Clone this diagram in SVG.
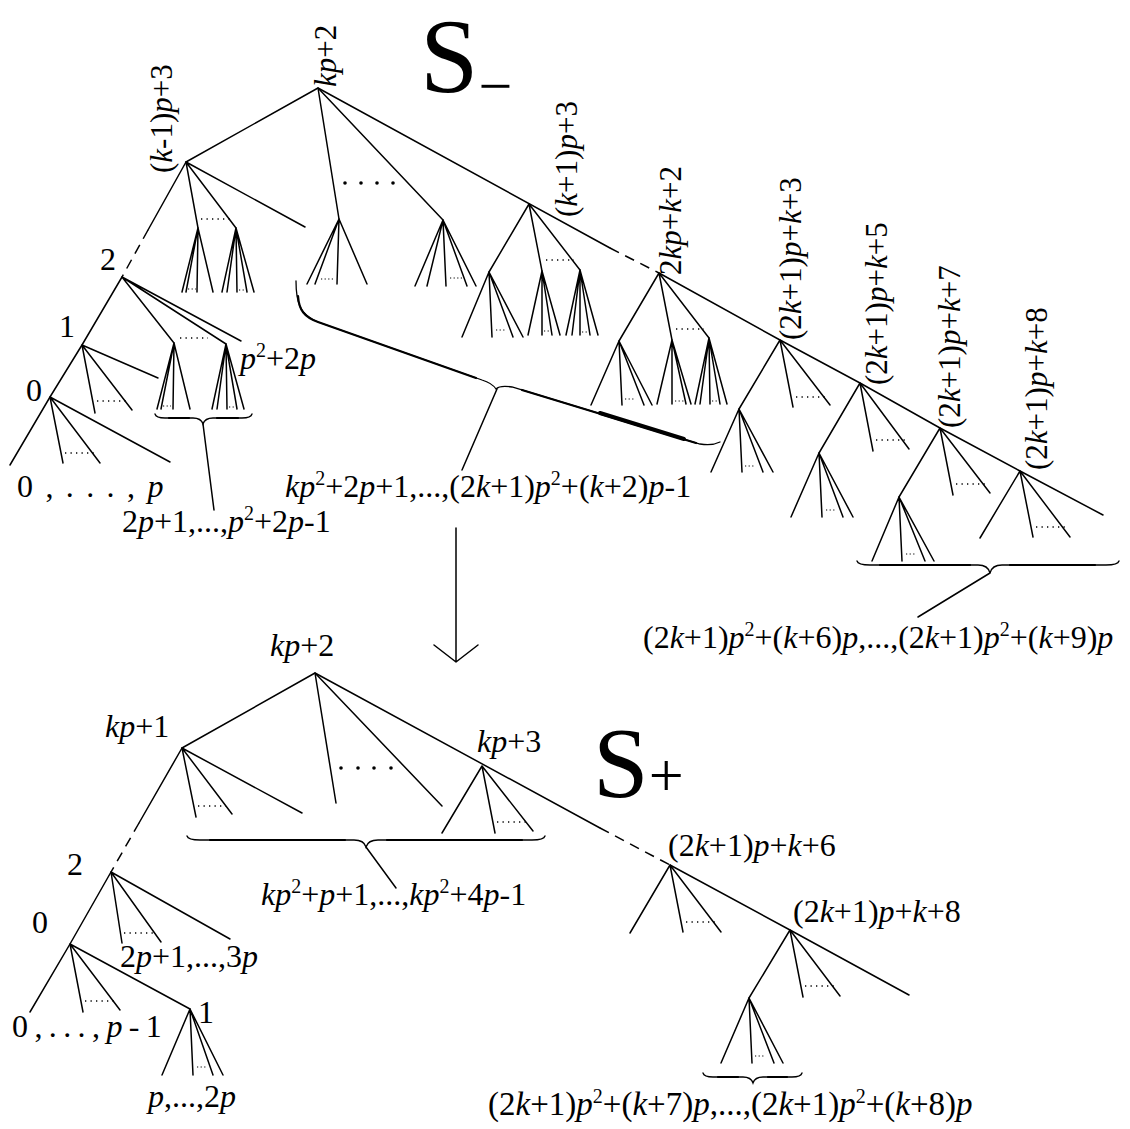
<svg xmlns="http://www.w3.org/2000/svg" width="1130" height="1129" viewBox="0 0 1130 1129">
<style>
#connectors path{fill:none;stroke:#000;stroke-width:1.5;stroke-linecap:round;stroke-linejoin:round}
#connectors path.dash{stroke-dasharray:10 7;stroke-linecap:butt}
#connectors path.dot{stroke-width:1.3;stroke-dasharray:1.3 4.2;stroke-linecap:butt}
#connectors path.ell{stroke-width:1.2;stroke-dasharray:1.2 2.4;stroke-linecap:butt}
#connectors circle{fill:#000}
.brace{fill:none;stroke:#000;stroke-width:1.3;stroke-linecap:round}
.brace-b{fill:none;stroke:#000;stroke-width:2.2;stroke-linecap:round}
text{font-size:32px;fill:#000}
text.rot{font-size:31px}
text.big{font-size:33px}
.i{font-style:italic}
.sup{font-size:20px}
</style>
<rect width="1130" height="1129" fill="#fff"/>

<g id="connectors">
  <!-- upper tree S_ : spines -->
  <path d="M186,162 L318,88 L610,248"/>
  <path class="dash" d="M610,248 L659,273"/>
  <path d="M659,273 L780,340 L860,383 L940,428 L1020,471 L1103,515"/>
  <path d="M186,162 L148,230"/>
  <path class="dash" d="M148,230 L122,277"/>
  <path d="M122,277 L82,345 L50,397 L10,465"/>
  <!-- upper tree fans -->
  <path d="M186,162 L198,228 M186,162 L236,228 M186,162 L305,227"/>
  <path d="M198,228 L182,292 M198,228 L186,292 M198,228 L197,292 M198,228 L213,292"/>
  <path d="M236,228 L222,292 M236,228 L227,292 M236,228 L237,292 M236,228 L247,292 M236,228 L254,292"/>
  <path d="M318,88 L339,219 M318,88 L443,220"/>
  <path d="M339,219 L307,284 M339,219 L315,284 M339,219 L337,284 M339,219 L367,284"/>
  <path d="M443,220 L415,286 M443,220 L427,286 M443,220 L446,286 M443,220 L467,286 M443,220 L476,286"/>
  <path d="M529,204 L489,272 M529,204 L542,271 M529,204 L580,270"/>
  <path d="M489,272 L462,337 M489,272 L492,337 M489,272 L513,337 M489,272 L523,337"/>
  <path d="M542,271 L528,335 M542,271 L542,335 M542,271 L552,335 M542,271 L560,335"/>
  <path d="M580,270 L566,335 M580,270 L572,335 M580,270 L580,335 M580,270 L590,335 M580,270 L598,335"/>
  <path d="M659,273 L619,341 M659,273 L672,340 M659,273 L709,338"/>
  <path d="M619,341 L591,405 M619,341 L622,405 M619,341 L644,405 M619,341 L652,405"/>
  <path d="M672,340 L657,404 M672,340 L672,404 M672,340 L686,404 M672,340 L691,404"/>
  <path d="M709,338 L695,404 M709,338 L700,404 M709,338 L710,404 M709,338 L720,404 M709,338 L727,404"/>
  <path d="M780,340 L739,409 M780,340 L793,407 M780,340 L830,405"/>
  <path d="M739,409 L711,472 M739,409 L742,472 M739,409 L763,472 M739,409 L773,472"/>
  <path d="M860,383 L819,453 M860,383 L873,451 M860,383 L909,449"/>
  <path d="M819,453 L791,517 M819,453 L822,517 M819,453 L843,517 M819,453 L853,517"/>
  <path d="M940,428 L899,497 M940,428 L953,495 M940,428 L990,493"/>
  <path d="M899,497 L872,561 M899,497 L902,561 M899,497 L925,561 M899,497 L934,561"/>
  <path d="M1020,471 L980,538 M1020,471 L1033,537 M1020,471 L1070,537"/>
  <path d="M122,277 L174,343 M122,277 L226,344 M122,277 L241,341"/>
  <path d="M174,343 L157,409 M174,343 L161,409 M174,343 L173,409 M174,343 L190,409"/>
  <path d="M226,344 L212,409 M226,344 L217,409 M226,344 L227,409 M226,344 L237,409 M226,344 L244,409"/>
  <path d="M82,345 L95,413 M82,345 L132,410 M82,345 L158,378"/>
  <path d="M50,397 L63,463 M50,397 L100,463 M50,397 L170,462"/>
  <!-- upper tree dotted gaps -->
  <path class="dot" d="M201,219 L232,219 M546,260 L574,260 M676,329 L704,329 M796,397 L826,397 M876,440 L905,440 M956,484 L985,484 M1036,527 L1066,527 M180,338 L208,338 M97,401 L126,401 M65,453 L95,453"/>
  <path class="ell" d="M188,289 L196,289 M239,290 L247,290 M321,279 L333,279 M450,278 L462,278 M496,330 L505,330 M544,331 L551,331 M582,332 L590,332 M625,399 L634,399 M675,401 L684,401 M712,401 L720,401 M745,466 L754,466 M826,510 L835,510 M906,554 L915,554 M163,406 L171,406 M229,407 L237,407"/>
  <circle cx="345" cy="183" r="1.8"/><circle cx="361" cy="183" r="1.8"/><circle cx="377" cy="183" r="1.8"/><circle cx="393" cy="183" r="1.8"/>
  <!-- brace leaders (upper) -->
  <path d="M203,424 L214,510"/>
  <path d="M497,389 L462,470"/>
  <path d="M990,573 L918,617"/>

  <!-- arrow between the trees -->
  <path d="M456,528 L456,662 M434,645 L456,662 L478,645"/>

  <!-- lower tree S+ : spines -->
  <path d="M182,748 L315,673 L600,828"/>
  <path class="dash" d="M600,828 L670,865"/>
  <path d="M670,865 L790,930 L909,995"/>
  <path d="M182,748 L139,823"/>
  <path class="dash" d="M139,823 L111,872"/>
  <path d="M111,872 L70,944 L30,1012"/>
  <!-- lower tree fans -->
  <path d="M182,748 L196,817 M182,748 L232,814 M182,748 L302,813"/>
  <path d="M315,673 L336,803 M315,673 L442,806"/>
  <path d="M482,766 L442,833 M482,766 L495,833 M482,766 L533,831"/>
  <path d="M670,865 L630,933 M670,865 L683,932 M670,865 L721,932"/>
  <path d="M790,930 L749,998 M790,930 L803,997 M790,930 L840,996"/>
  <path d="M749,998 L721,1063 M749,998 L752,1063 M749,998 L774,1063 M749,998 L783,1063"/>
  <path d="M111,872 L122,943 M111,872 L161,942 M111,872 L230,939"/>
  <path d="M70,944 L83,1012 M70,944 L120,1010 M70,944 L190,1009"/>
  <path d="M190,1009 L162,1075 M190,1009 L193,1075 M190,1009 L213,1075 M190,1009 L223,1075"/>
  <path class="dot" d="M198,806 L226,806 M497,822 L528,822 M686,922 L715,922 M805,986 L834,986 M124,933 L157,933 M85,1001 L114,1001"/>
  <path class="ell" d="M755,1056 L765,1056 M197,1067 L206,1067"/>
  <circle cx="341" cy="768" r="1.8"/><circle cx="358" cy="768" r="1.8"/><circle cx="374" cy="768" r="1.8"/><circle cx="391" cy="768" r="1.8"/>
  <path d="M366,847 L396,888"/>
</g>

<g id="braces">
  <!-- slanted brace under the middle subtrees -->
  <path class="brace" d="M296,281 C296,303 300,315 318,322 L482,380 Q492,383 496,389 Q500,385 512,387 L700,444 Q712,446 720,442"/>
  <path class="brace-b" d="M298,296 C299,310 304,317 318,322 L476,378"/>
  <path class="brace-b" d="M522,390 L696,443"/>
  <path class="brace-b" style="stroke-width:4" d="M600,413 L684,439"/>
  <!-- horizontal braces -->
  <path class="brace" d="M155,414 Q156,418 165,418 L193,418 Q201,418 203,424 Q205,418 213,418 L242,418 Q251,418 252,414"/>
  <path class="brace-b" d="M169,418 L189,418 M217,418 L238,418"/>
  <path class="brace" d="M857,561 Q858,565 870,565 L978,565 Q988,565 990,573 Q992,565 1002,565 L1106,565 Q1118,565 1119,561"/>
  <path class="brace-b" d="M880,565 L970,565 M1010,565 L1095,565"/>
  <path class="brace" d="M187,836 Q188,840 200,840 L354,840 Q364,840 366,847 Q368,840 378,840 L532,840 Q544,840 545,836"/>
  <path class="brace-b" d="M210,840 L345,840 M387,840 L522,840"/>
  <path class="brace" d="M703,1073 Q704,1077 713,1077 L743,1077 Q751,1077 753,1083 Q755,1077 763,1077 L792,1077 Q801,1077 802,1073"/>
  <path class="brace-b" d="M718,1077 L738,1077 M768,1077 L787,1077"/>
</g>

<g id="labels">
<!-- titles -->
<g id="title-minus"><text font-family="Liberation Serif" x="420" y="92" style="font-size:105px">S<tspan style="font-size:60px" dy="14">−</tspan></text></g>
<g id="title-plus"><text font-family="Liberation Serif" x="593" y="796" style="font-size:100px">S<tspan style="font-size:62px">+</tspan></text></g>

<!-- upper tree node labels -->
<g id="node-u-kp2"><text class="rot" font-family="Liberation Serif" transform="translate(336,87) rotate(-90)"><tspan class="i">kp</tspan>+2</text></g>
<g id="node-u-km1"><text class="rot" font-family="Liberation Serif" transform="translate(172,173) rotate(-90)">(<tspan class="i">k</tspan>-1)<tspan class="i">p</tspan>+3</text></g>
<g id="node-u-kp1"><text class="rot" font-family="Liberation Serif" transform="translate(577,217) rotate(-90)">(<tspan class="i">k</tspan>+1)<tspan class="i">p</tspan>+3</text></g>
<g id="node-u-2kp"><text class="rot" font-family="Liberation Serif" transform="translate(681,275) rotate(-90)">2<tspan class="i">kp</tspan>+<tspan class="i">k</tspan>+2</text></g>
<g id="node-u-k3"><text class="rot" font-family="Liberation Serif" transform="translate(801,340) rotate(-90)">(2<tspan class="i">k</tspan>+1)<tspan class="i">p</tspan>+<tspan class="i">k</tspan>+3</text></g>
<g id="node-u-k5"><text class="rot" font-family="Liberation Serif" transform="translate(887,385) rotate(-90)">(2<tspan class="i">k</tspan>+1)<tspan class="i">p</tspan>+<tspan class="i">k</tspan>+5</text></g>
<g id="node-u-k7"><text class="rot" font-family="Liberation Serif" transform="translate(960,428) rotate(-90)">(2<tspan class="i">k</tspan>+1)<tspan class="i">p</tspan>+<tspan class="i">k</tspan>+7</text></g>
<g id="node-u-k8"><text class="rot" font-family="Liberation Serif" transform="translate(1047,470) rotate(-90)">(2<tspan class="i">k</tspan>+1)<tspan class="i">p</tspan>+<tspan class="i">k</tspan>+8</text></g>
<g id="node-u-2"><text font-family="Liberation Serif" x="100" y="270">2</text></g>
<g id="node-u-1"><text font-family="Liberation Serif" x="59" y="337">1</text></g>
<g id="node-u-0"><text font-family="Liberation Serif" x="26" y="401">0</text></g>
<g id="leaf-u-p2"><text font-family="Liberation Serif" x="240" y="369"><tspan class="i">p</tspan><tspan class="sup" dy="-12">2</tspan><tspan dy="12">+2</tspan><tspan class="i">p</tspan></text></g>
<g id="leaf-u-0p"><text font-family="Liberation Serif" x="17" y="497" letter-spacing="2.2">0 , . . . , <tspan class="i">p</tspan></text></g>
<g id="leaf-u-range1"><text font-family="Liberation Serif" x="122" y="532">2<tspan class="i">p</tspan>+1,...,<tspan class="i">p</tspan><tspan class="sup" dy="-12">2</tspan><tspan dy="12">+2</tspan><tspan class="i">p</tspan>-1</text></g>
<g id="leaf-u-range2"><text font-family="Liberation Serif" x="285" y="497"><tspan class="i">kp</tspan><tspan class="sup" dy="-12">2</tspan><tspan dy="12">+2</tspan><tspan class="i">p</tspan>+1,...,(2<tspan class="i">k</tspan>+1)<tspan class="i">p</tspan><tspan class="sup" dy="-12">2</tspan><tspan dy="12">+(</tspan><tspan class="i">k</tspan>+2)<tspan class="i">p</tspan>-1</text></g>
<g id="leaf-u-range3"><text font-family="Liberation Serif" x="643" y="648">(2<tspan class="i">k</tspan>+1)<tspan class="i">p</tspan><tspan class="sup" dy="-12">2</tspan><tspan dy="12">+(</tspan><tspan class="i">k</tspan>+6)<tspan class="i">p</tspan>,...,(2<tspan class="i">k</tspan>+1)<tspan class="i">p</tspan><tspan class="sup" dy="-12">2</tspan><tspan dy="12">+(</tspan><tspan class="i">k</tspan>+9)<tspan class="i">p</tspan></text></g>

<!-- lower tree node labels -->
<g id="node-l-kp2"><text font-family="Liberation Serif" x="270" y="656"><tspan class="i">kp</tspan>+2</text></g>
<g id="node-l-kp1"><text font-family="Liberation Serif" x="105" y="737"><tspan class="i">kp</tspan>+1</text></g>
<g id="node-l-kp3"><text font-family="Liberation Serif" x="477" y="752"><tspan class="i">kp</tspan>+3</text></g>
<g id="node-l-k6"><text font-family="Liberation Serif" x="668" y="856">(2<tspan class="i">k</tspan>+1)<tspan class="i">p</tspan>+<tspan class="i">k</tspan>+6</text></g>
<g id="node-l-k8"><text font-family="Liberation Serif" x="793" y="922">(2<tspan class="i">k</tspan>+1)<tspan class="i">p</tspan>+<tspan class="i">k</tspan>+8</text></g>
<g id="node-l-2"><text font-family="Liberation Serif" x="67" y="875">2</text></g>
<g id="node-l-0"><text font-family="Liberation Serif" x="32" y="933">0</text></g>
<g id="node-l-1"><text font-family="Liberation Serif" x="198" y="1023">1</text></g>
<g id="leaf-l-2p"><text font-family="Liberation Serif" x="120" y="967">2<tspan class="i">p</tspan>+1,...,3<tspan class="i">p</tspan></text></g>
<g id="leaf-l-0p"><text font-family="Liberation Serif" x="12" y="1037" letter-spacing="-0.8">0 , . . . , <tspan class="i">p</tspan> - 1</text></g>
<g id="leaf-l-p2p"><text font-family="Liberation Serif" x="148" y="1107"><tspan class="i">p</tspan>,...,2<tspan class="i">p</tspan></text></g>
<g id="leaf-l-range1"><text font-family="Liberation Serif" x="261" y="905"><tspan class="i">kp</tspan><tspan class="sup" dy="-12">2</tspan><tspan dy="12">+</tspan><tspan class="i">p</tspan>+1,...,<tspan class="i">kp</tspan><tspan class="sup" dy="-12">2</tspan><tspan dy="12">+4</tspan><tspan class="i">p</tspan>-1</text></g>
<g id="leaf-l-range2"><text class="big" font-family="Liberation Serif" x="488" y="1115">(2<tspan class="i">k</tspan>+1)<tspan class="i">p</tspan><tspan class="sup" dy="-12">2</tspan><tspan dy="12">+(</tspan><tspan class="i">k</tspan>+7)<tspan class="i">p</tspan>,...,(2<tspan class="i">k</tspan>+1)<tspan class="i">p</tspan><tspan class="sup" dy="-12">2</tspan><tspan dy="12">+(</tspan><tspan class="i">k</tspan>+8)<tspan class="i">p</tspan></text></g>
</g>
</svg>
